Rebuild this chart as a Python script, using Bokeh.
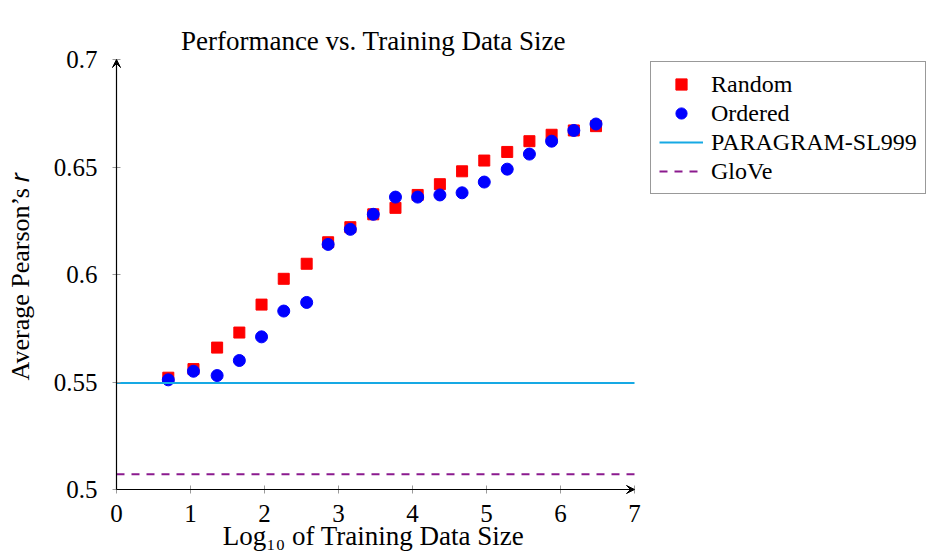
from bokeh.plotting import figure
from bokeh.models import Range1d, Legend, LegendItem, Arrow, VeeHead, FixedTicker, Title
from bokeh.embed import file_html
from bokeh.resources import INLINE

# ---- data ----
log_size = [0.70, 1.04, 1.36, 1.66, 1.96, 2.26, 2.57, 2.86, 3.16, 3.47,
            3.77, 4.07, 4.37, 4.67, 4.97, 5.28, 5.58, 5.88, 6.18, 6.48]
random_r = [0.552, 0.556, 0.566, 0.573, 0.586, 0.598, 0.605, 0.615, 0.622, 0.628,
            0.631, 0.637, 0.642, 0.648, 0.653, 0.657, 0.662, 0.665, 0.667, 0.669]
ordered_r = [0.551, 0.555, 0.553, 0.560, 0.571, 0.583, 0.587, 0.614, 0.621, 0.628,
             0.636, 0.636, 0.637, 0.638, 0.643, 0.649, 0.656, 0.662, 0.667, 0.670]
paragram_r = 0.5495
glove_r = 0.5071

x_ticks = [0, 1, 2, 3, 4, 5, 6, 7]
y_ticks = [0.5, 0.55, 0.6, 0.65, 0.7]
y_tick_labels = ["0.5", "0.55", "0.6", "0.65", "0.7"]

X_MIN, X_MAX = 0, 7
Y_MIN, Y_MAX = 0.5, 0.7

# layout (pixels)
FRAME_W, FRAME_H = 526, 438
PAD_L, PAD_R, PAD_T, PAD_B = 6, 2, 2, 6   # room so the axis arrow tips are not clipped

FONT = "Liberation Serif"

x_scale = (FRAME_W - PAD_L - PAD_R) / (X_MAX - X_MIN)
y_scale = (FRAME_H - PAD_T - PAD_B) / (Y_MAX - Y_MIN)

p = figure(frame_width=FRAME_W, frame_height=FRAME_H,
           output_backend="svg", toolbar_location=None,
           x_range=Range1d(X_MIN - PAD_L / x_scale, X_MAX + PAD_R / x_scale),
           y_range=Range1d(Y_MIN - PAD_B / y_scale, Y_MAX + PAD_T / y_scale),
           min_border_left=110, min_border_right=292, min_border_top=57,
           min_border_bottom=0)

xax = p.below[0]
yax = p.left[0]

title = Title(text="Performance vs. Training Data Size", text_font=FONT,
              text_font_size="27px", text_font_style="normal", align="center",
              vertical_align="top", text_color="black", standoff=0,
              text_line_height=1.6)
p.add_layout(title, "above")

p.grid.visible = False
p.outline_line_color = None
p.background_fill_color = "white"
p.border_fill_color = "white"

for ax in (xax, yax):
    ax.axis_line_color = None
    ax.major_tick_line_color = "#9a9a9a"
    ax.major_tick_in = PAD_L + 4
    ax.major_tick_out = -(PAD_L - 4)
    ax.minor_tick_line_color = None
    ax.major_label_text_font = FONT
    ax.major_label_text_font_size = "25px"
    ax.major_label_text_color = "black"
    ax.axis_label_text_font = FONT
    ax.axis_label_text_font_style = "normal"
    ax.axis_label_text_color = "black"

xax.axis_label_text_font_size = "27px"
yax.axis_label_text_font_size = "26px"
xax.ticker = FixedTicker(ticks=x_ticks)
yax.ticker = FixedTicker(ticks=y_ticks)
yax.major_label_overrides = {t: s for t, s in zip(y_ticks, y_tick_labels)}
xax.major_label_standoff = 9
yax.major_label_standoff = 13
xax.axis_label = "Log\u2081\u2080 of Training Data Size"
yax.axis_label = "Average Pearson\u2019s \U0001D45F"
xax.axis_label_standoff = -4
yax.axis_label_standoff = 16

# axes with arrow tips
head = dict(size=8, line_color="black", fill_color="black", line_width=1)
p.add_layout(Arrow(end=VeeHead(**head), x_start=X_MIN, y_start=Y_MIN, x_end=X_MAX, y_end=Y_MIN,
                   line_color="black", line_width=1.2))
p.add_layout(Arrow(end=VeeHead(**head), x_start=X_MIN, y_start=Y_MIN, x_end=X_MIN, y_end=Y_MAX,
                   line_color="black", line_width=1.2))

r_rand = p.scatter(log_size, random_r, marker="square", size=11,
                   fill_color="#ff0000", line_color="#ff0000")
r_ord = p.scatter(log_size, ordered_r, marker="circle", size=12,
                  fill_color="#0000ff", line_color="#0000ff")
r_par = p.line([X_MIN, X_MAX], [paragram_r, paragram_r], line_color="#16a9e4", line_width=2)
r_glo = p.line([X_MIN, X_MAX], [glove_r, glove_r], line_color="#8b1a8e", line_width=2,
               line_dash="8 7")

legend = Legend(items=[
    LegendItem(label="Random", renderers=[r_rand]),
    LegendItem(label="Ordered", renderers=[r_ord]),
    LegendItem(label="PARAGRAM-SL999", renderers=[r_par]),
    LegendItem(label="GloVe", renderers=[r_glo]),
], location=(14, 301))
legend.label_text_font = FONT
legend.label_text_font_size = "24px"
legend.label_text_color = "black"
legend.glyph_width = 44
legend.glyph_height = 28
legend.label_height = 28
legend.label_standoff = 8
legend.spacing = 1
legend.padding = 8
legend.margin = 0
legend.border_line_color = "#333333"
legend.border_line_width = 1
legend.background_fill_color = "white"
legend.background_fill_alpha = 1.0
p.add_layout(legend, "right")

open("out.html", "w").write(file_html(p, INLINE))
